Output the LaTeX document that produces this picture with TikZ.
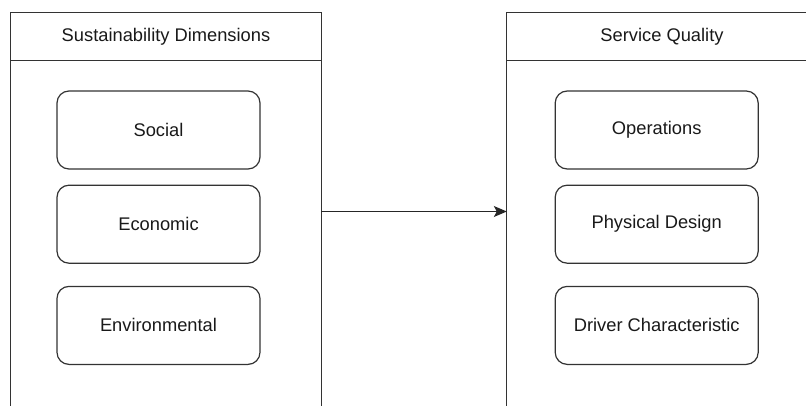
\documentclass[tikz,border=0pt]{standalone}
\usepackage{fontspec}
\setmainfont{Liberation Sans}
\usepackage{tikz}
\usetikzlibrary{arrows.meta, positioning}

\begin{document}
\begin{tikzpicture}[x=1pt, y=1pt, font=\fontsize{18.3}{21}\selectfont]
    % styles
    \tikzstyle{frame} = [draw=black!80, line width=1.2pt]
    \tikzstyle{header} = [rectangle, minimum width=310pt, minimum height=47pt, inner sep=0pt, text=black!90]
    \tikzstyle{item} = [rectangle, draw=black!80, line width=1.2pt, rounded corners=12pt, minimum width=203pt, minimum height=78pt, text=black!90]
    \tikzstyle{link} = [draw=black!85, line width=1.2pt, -{Stealth[length=13pt, width=11pt, inset=3pt]}]

    % page
    \coordinate (pageTL) at (0,0);
    \coordinate (pageBR) at (806,-406);
    \useasboundingbox (pageTL) rectangle (pageBR);

    % containers
    \node [header] (sdHead) at (166,-36.5) {Sustainability Dimensions};
    \node [header] (sqHead) at (662,-36.5) {Service Quality};
    \draw [frame] (sdHead.south west |- pageBR) -- (sdHead.north west) -- (sdHead.north east) -- (sdHead.south east |- pageBR);
    \draw [frame] (sdHead.south west) -- (sdHead.south east);
    \draw [frame] (sqHead.south west |- pageBR) -- (sqHead.north west) -- (sqHead.north west -| pageBR);
    \draw [frame] (sqHead.south west) -- (sqHead.south west -| pageBR);

    % items
    \node [item] (social) at (158.5,-130) {Social};
    \node [item, below=15pt of social] (economic) {Economic};
    \node [item, below=22pt of economic] (environ) {Environmental};
    \node [item, right=294pt of social] (ops) {Operations};
    \node [item, below=15pt of ops] (design) {Physical Design};
    \node [item, below=22pt of design] (driver) {Driver Characteristic};

    % arrow
    \coordinate (arrowY) at (0,-211.5);
    \path [link] (sdHead.east |- arrowY) -- (sqHead.west |- arrowY);
\end{tikzpicture}
\end{document}
